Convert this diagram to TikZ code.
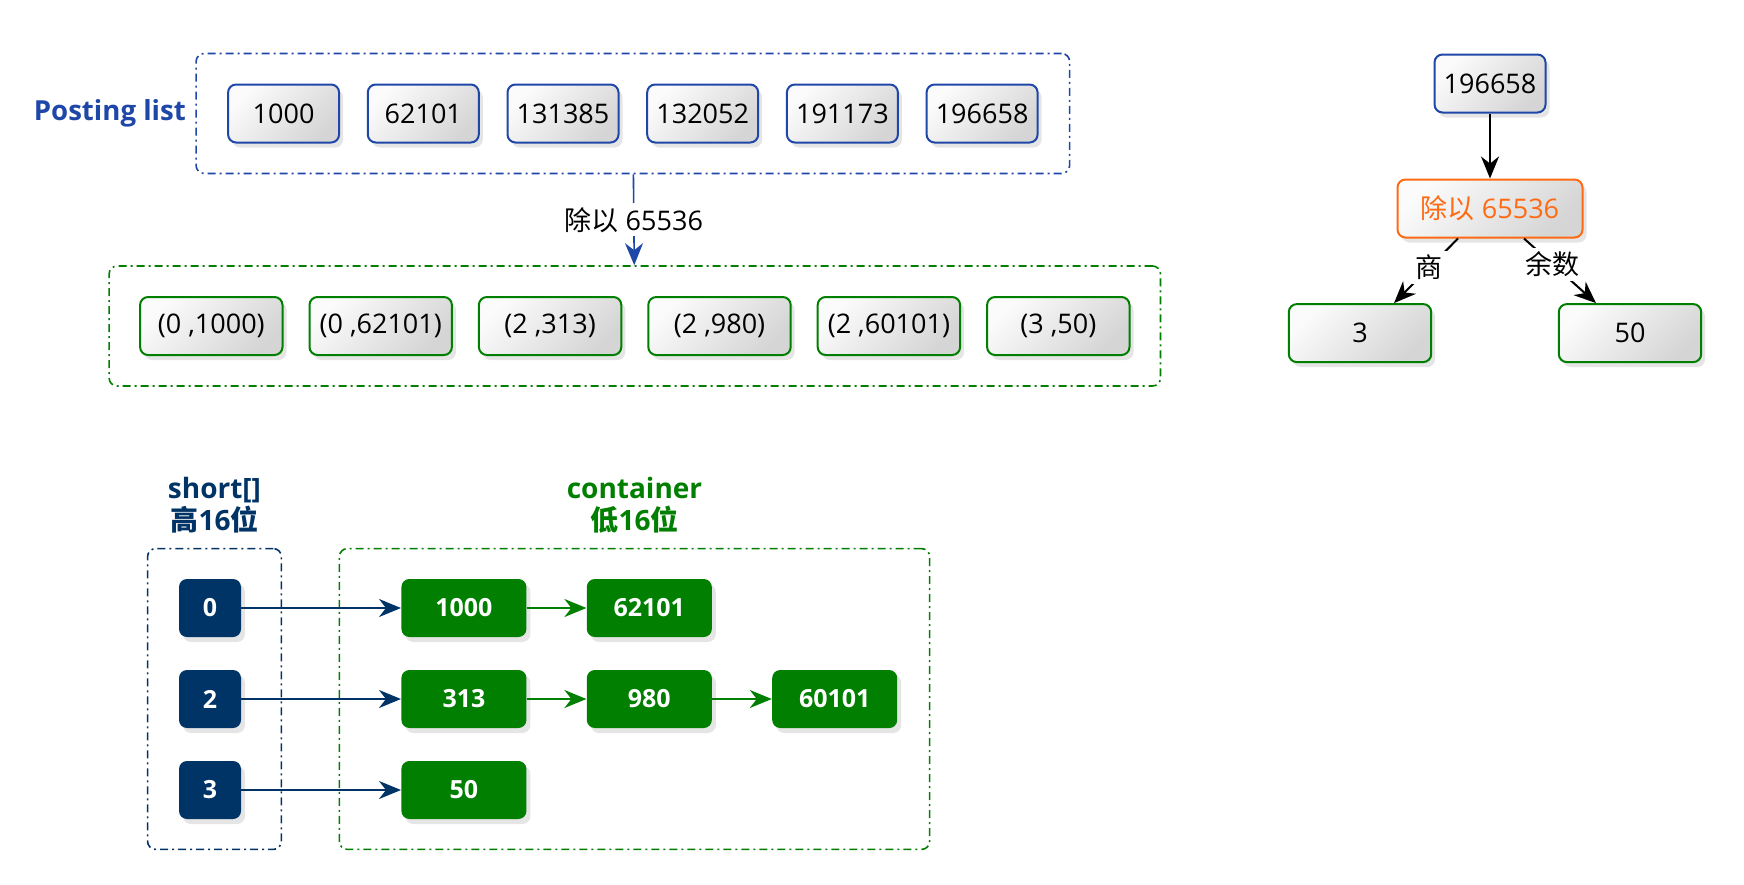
\documentclass[tikz,border=0pt]{standalone}
\usepackage{fontspec}
\setmainfont{Open Sans}
\newfontfamily\cjk{Noto Sans CJK SC}
\usetikzlibrary{positioning,fit,chains,calc,shadows,arrows.meta}
\definecolor{postblue}{HTML}{1F47A8}
\definecolor{highblue}{HTML}{003366}
\definecolor{lowgreen}{HTML}{007F00}
\definecolor{divorange}{HTML}{FF6A13}
\tikzset{
	roaring bitmap/.style={
		x=0.5pt,y=-0.5pt, % one unit is one pixel of the page
		font=\fontsize{13.5}{16}\selectfont
	},
	value box/.style={
		rectangle,
		rounded corners=4pt,
		draw=postblue,
		line width=1pt,
		top color=gray!3,
		bottom color=gray!33,
		shading angle=45,
		drop shadow={shadow xshift=2pt,shadow yshift=-2.5pt,opacity=0.2},
		minimum width=55.5pt,
		minimum height=29pt
	},
	pair box/.style={
		value box,
		draw=lowgreen,
		minimum width=71.2pt
	},
	div box/.style={
		value box,
		draw=divorange,
		text=divorange,
		minimum width=92.5pt
	},
	high box/.style={
		rectangle,
		rounded corners=4pt,
		fill=highblue,
		text=white,
		font=\fontsize{12.5}{14}\selectfont\bfseries,
		drop shadow={shadow xshift=2pt,shadow yshift=-2.5pt,opacity=0.2},
		minimum width=31pt,
		minimum height=29pt
	},
	low box/.style={
		high box,
		fill=lowgreen,
		minimum width=62.5pt
	},
	group box/.style={% dash dot frame round a group of boxes
		draw=#1,
		line width=0.8pt,
		rounded corners=4pt,
		dash pattern=on 4pt off 2pt on 1pt off 2pt
	},
	group title/.style={
		text=#1,
		align=center,
		font=\fontsize{14}{16}\selectfont\bfseries
	},
	link/.style={
		line width=1pt,
		draw=#1,
		-{Stealth[length=11pt,width=9pt,inset=3.5pt]}
	},
	link label/.style={
		fill=white,
		inner sep=2pt
	}
}

\begin{document}
\begin{tikzpicture}[roaring bitmap]
	\path[use as bounding box,fill=white] (0,0) rectangle (1744,884);

	% posting list
	\begin{scope}[start chain=postings going right,node distance=13.35pt]
		\node[value box,on chain] (p1000) at (283.6,113.5) {1000};
		\node[value box,on chain] (p62101) {62101};
		\node[value box,on chain] (p131385) {131385};
		\node[value box,on chain] (p132052) {132052};
		\node[value box,on chain] (p191173) {191173};
		\node[value box,on chain] (p196658) {196658};
	\end{scope}
	\node[group box=postblue,fit=(p1000)(p196658),inner xsep=15.5pt,inner ysep=15pt] (postlist) {};
	\node[left=1.2pt of postlist,text=postblue,font=\fontsize{13.8}{16}\selectfont\bfseries] (postlabel) {Posting list};

	% (high, low) pairs
	\begin{scope}[start chain=pairs going right,node distance=12.5pt]
		\node[pair box,on chain] (q1000) at (211.3,326) {(0 ,1000)};
		\node[pair box,on chain] (q62101) {(0 ,62101)};
		\node[pair box,on chain] (q313) {(2 ,313)};
		\node[pair box,on chain] (q980) {(2 ,980)};
		\node[pair box,on chain] (q60101) {(2 ,60101)};
		\node[pair box,on chain] (q50) {(3 ,50)};
	\end{scope}
	\node[group box=lowgreen,fit=(q1000)(q50),inner xsep=15pt,inner ysep=15pt] (pairlist) {};
	\draw[link=postblue,line width=0.8pt] (postlist) -- node[link label] (divlabel) {{\cjk 除以} 65536} (pairlist);

	% one value split in two
	\node[value box] (num) at (1490,83.5) {196658};
	\node[div box,below=32.5pt of num] (div) {{\cjk 除以} 65536};
	\node[pair box,below=32.3pt of div,xshift=-65pt] (quot) {3};
	\node[pair box,below=32.3pt of div,xshift=70pt] (rem) {50};
	\draw[link=black] (num) -- (div);
	\draw[link=black] ($(div.south)+(-16pt,0)$) -- node[link label,pos=0.45] (quotlabel) {\cjk 商} ($(quot.north)+(17pt,0)$);
	\draw[link=black] ($(div.south)+(17pt,0)$) -- node[link label,pos=0.4] (remlabel) {\cjk 余数} ($(rem.north)+(-17pt,0)$);

	% short[] and containers
	\node[high box] (h0) at (210,608) {0};
	\node[high box,below=16.1pt of h0] (h2) {2};
	\node[high box,below=16.1pt of h2] (h3) {3};
	\begin{scope}[node distance=29.8pt]
		\node[low box,right=79.8pt of h0] (l1000) {1000};
		\node[low box,right=of l1000] (l62101) {62101};
		\node[low box,right=79.8pt of h2] (l313) {313};
		\node[low box,right=of l313] (l980) {980};
		\node[low box,right=of l980] (l60101) {60101};
		\node[low box,right=79.8pt of h3] (l50) {50};
	\end{scope}
	\node[group box=highblue,fit=(h0)(h3),inner xsep=17.75pt,inner ysep=15pt,xshift=2.25pt] (highs) {};
	\node[group box=lowgreen,fit=(l1000)(l60101)(l50),inner xsep=23.4pt,inner ysep=15pt,xshift=-7.4pt] (lows) {};
	\node[group title=highblue,above=3.7pt of highs] (hightitle) {short[]\\{\cjk 高}16{\cjk 位}};
	\node[group title=lowgreen,above=3.7pt of lows] (lowtitle) {container\\{\cjk 低}16{\cjk 位}};
	\draw[link=highblue] (h0) -- (l1000);
	\draw[link=highblue] (h2) -- (l313);
	\draw[link=highblue] (h3) -- (l50);
	\draw[link=lowgreen] (l1000) -- (l62101);
	\draw[link=lowgreen] (l313) -- (l980);
	\draw[link=lowgreen] (l980) -- (l60101);
\end{tikzpicture}
\end{document}
